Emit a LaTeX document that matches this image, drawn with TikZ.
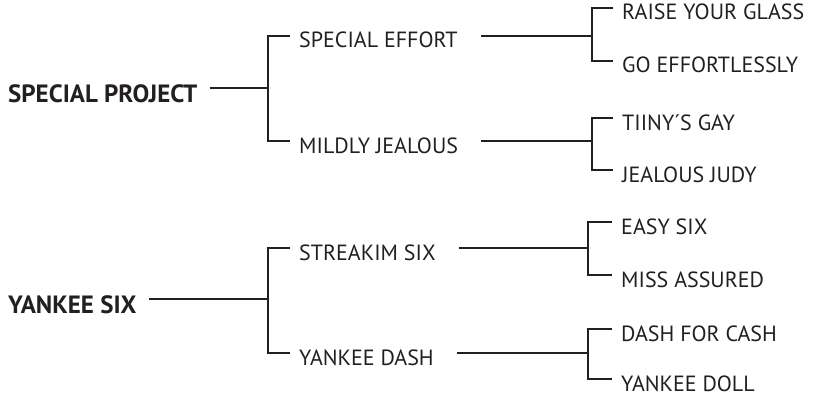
\documentclass[tikz,border=0pt]{standalone}
\usepackage{fontspec}
\setmainfont{PT Sans}
\usepackage{xcolor}
\definecolor{ink}{HTML}{231F20}

\begin{document}
\begin{tikzpicture}[x=1pt, y=-1pt, color=ink,
    conn/.style={line width=2.2pt},
    top/.style={anchor=base west, inner sep=0pt, text height=14pt, text depth=0pt,
      font=\fontsize{25}{25}\selectfont\bfseries},
    leaf/.style={anchor=base west, inner xsep=9pt, inner ysep=0pt, text height=12pt,
      text depth=0pt, font=\fontsize{22}{22}\selectfont}]
    \useasboundingbox (0,0) rectangle (816,396);

    % bracket corners
    \coordinate (b1) at (268,88);
    \coordinate (b2) at (268,300);
    \coordinate (b3) at (592,34);
    \coordinate (b4) at (592,140);
    \coordinate (b5) at (588,249);
    \coordinate (b6) at (588,354);

    \node[top] (sp) at (8,102) {SPECIAL PROJECT};
    \node[top] (ys) at (8,313) {YANKEE SIX};

    \node[leaf] (se) at (290,48) {SPECIAL EFFORT};
    \node[leaf] (mj) at (290,153) {MILDLY JEALOUS};
    \node[leaf] (sk) at (290,260) {STREAKIM SIX};
    \node[leaf] (yd) at (290,365) {YANKEE DASH};

    \node[leaf] (rg) at (613,20) {RAISE YOUR GLASS};
    \node[leaf] (ge) at (613,73) {GO EFFORTLESSLY};
    \node[leaf] (tg) at (613,130) {TIINY´S GAY};
    \node[leaf] (jj) at (613,182) {JEALOUS JUDY};
    \node[leaf] (es) at (612,234) {EASY SIX};
    \node[leaf] (ma) at (612,287) {MISS ASSURED};
    \node[leaf] (dc) at (612,341) {DASH FOR CASH};
    \node[leaf] (yl) at (612,391) {YANKEE DOLL};

    \draw[conn, shorten <=12pt] (sp.north east) -- (sp.north east -| b1);
    \draw[conn, shorten <=12pt] (ys.north east) -- (ys.north east -| b2);
    \draw[conn, shorten <=14pt] (se.north east) -- (se.north east -| b3);
    \draw[conn, shorten <=14pt] (mj.north east) -- (mj.north east -| b4);
    \draw[conn, shorten <=14pt] (sk.north east) -- (sk.north east -| b5);
    \draw[conn, shorten <=14pt] (yd.north east) -- (yd.north east -| b6);

    \draw[conn] (se.north west) -| (b1) |- (mj.north west);
    \draw[conn] (sk.north west) -| (b2) |- (yd.north west);
    \draw[conn] (rg.north west) -| (b3) |- (ge.north west);
    \draw[conn] (tg.north west) -| (b4) |- (jj.north west);
    \draw[conn] (es.north west) -| (b5) |- (ma.north west);
    \draw[conn] (dc.north west) -| (b6) |- (yl.north west);
\end{tikzpicture}
\end{document}
